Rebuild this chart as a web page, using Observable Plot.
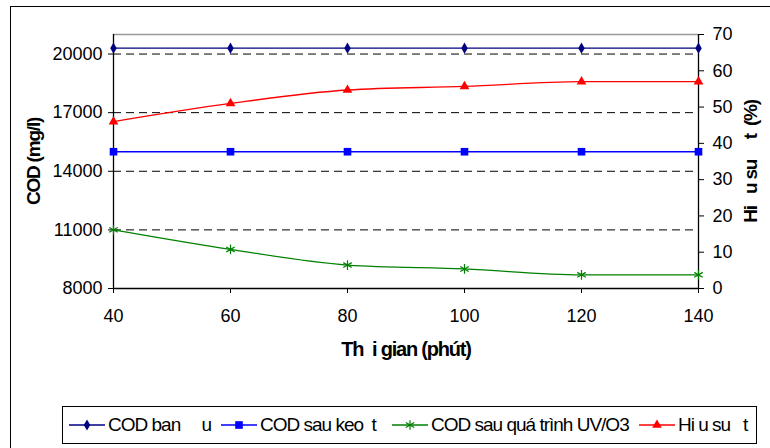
<!DOCTYPE html>
<html>
<head>
<meta charset="utf-8">
<script src="https://cdn.jsdelivr.net/npm/d3@7"></script>
<script src="https://cdn.jsdelivr.net/npm/@observablehq/plot@0.6"></script>
<style>
  html, body { margin: 0; padding: 0; background: #fff; }
  #wrap { position: relative; width: 770px; height: 448px; overflow: hidden; font-family: "Liberation Sans", Arial, sans-serif; }
  #outer { position: absolute; left: 10px; top: 6px; width: 800px; height: 500px; border: 1.5px solid #000; box-sizing: border-box; pointer-events: none; }
  #chart svg { display: block; }
  #legend { position: relative; margin-left: 62px; margin-top: 6px; width: 695px; height: 38px; border: 1.5px solid #000; box-sizing: border-box; background: #fff; }
  .item { position: absolute; top: 0; height: 35px; display: flex; align-items: center; }
  .item svg { display: block; }
  .item span { white-space: pre; font-size: 19px; letter-spacing: -1px; margin-left: 3px; color: #000; }
</style>
</head>
<body>
<div id="wrap">
  <div id="chart"></div>
  <div id="legend"></div>
  <div id="outer"></div>
</div>
<script>
// ---- data ----
const times      = [40, 60, 80, 100, 120, 140];
const codBanDau  = [20300, 20300, 20300, 20300, 20300, 20300];
const codKeoTu   = [15000, 15000, 15000, 15000, 15000, 15000];
const codUVO3    = [11000, 10000, 9200, 9000, 8700, 8700];
const hieuSuat   = [46, 51, 54.7, 55.7, 57, 57];

const xTicks      = [40, 60, 80, 100, 120, 140];
const yLeftTicks  = [8000, 11000, 14000, 17000, 20000];
const yRightTicks = [0, 10, 20, 30, 40, 50, 60, 70];
const xDomain      = [40, 140];
const yLeftDomain  = [8000, 21000];
const yRightDomain = [0, 70];

const seriesNames  = ["COD ban     u", "COD sau keo  t", "COD sau quá trình UV/O3", "Hi u su   t"];
const seriesColors = ["#000080", "#0000FF", "#008000", "#FF0000"];
const seriesSymbols = ["diamond", "square", "asterisk", "triangle"];
const seriesR = [3.4, 4.3, 4.6, 3.6];

const xLabel = "Th  i gian (phút)";
const yLeftLabel = "COD (mg/l)";
const yRightLabel = "Hi   u su     t  (%)";

// right axis values mapped into the left (COD) scale
const k = (yLeftDomain[1] - yLeftDomain[0]) / (yRightDomain[1] - yRightDomain[0]);
const toLeft = v => yLeftDomain[0] + (v - yRightDomain[0]) * k;
const fromLeft = d => yRightDomain[0] + (d - yLeftDomain[0]) / k;

const seriesValues = [codBanDau, codKeoTu, codUVO3, hieuSuat.map(toLeft)];
const rows = seriesValues.map((vals, i) => times.map((t, j) => ({x: t, y: vals[j], s: i})));

const lineMarks = rows.map((r, i) => Plot.line(r, {x: "x", y: "y", stroke: seriesColors[i], strokeWidth: 1.3, curve: "monotone-x"}));
const dotMarks = rows.map((r, i) => {
  const filled = seriesSymbols[i] !== "asterisk";
  return Plot.dot(r, {x: "x", y: "y", symbol: seriesSymbols[i], r: seriesR[i],
    fill: filled ? seriesColors[i] : "none", stroke: filled ? "none" : seriesColors[i], strokeWidth: 1.2});
});

const svg = Plot.plot({
  width: 770, height: 400,
  marginTop: 34, marginBottom: 112, marginLeft: 113, marginRight: 72,
  style: {fontFamily: "'Liberation Sans', Arial, sans-serif", fontSize: "18px", color: "#000", background: "transparent", overflow: "visible"},
  x: {domain: xDomain},
  y: {domain: yLeftDomain},
  marks: [
    Plot.gridY(yLeftTicks.filter(t => t > yLeftDomain[0]), {stroke: "#000", strokeOpacity: 1, strokeDasharray: "8,5", strokeWidth: 1}),
    Plot.ruleY([yLeftDomain[1]], {stroke: "#999", strokeWidth: 1.3}),
    Plot.ruleY([yLeftDomain[0]], {stroke: "#000", strokeWidth: 1.3}),
    Plot.ruleX([xDomain[0]], {stroke: "#000", strokeWidth: 1.3}),
    Plot.ruleX([xDomain[1]], {stroke: "#000", strokeWidth: 1.3}),
    Plot.axisX(xTicks, {tickSize: 5, tickPadding: 16, label: null, tickFormat: d => String(d)}),
    Plot.axisY(yLeftTicks, {anchor: "left", tickSize: 5, tickPadding: 6, label: null, tickFormat: d => String(d)}),
    Plot.axisY(yRightTicks.map(toLeft), {anchor: "right", tickSize: 5, tickPadding: 9, label: null, tickFormat: d => String(Math.round(fromLeft(d)))}),
    ...lineMarks,
    ...dotMarks,
    Plot.text([xLabel], {frameAnchor: "bottom", dy: 67, fontWeight: "bold", fontSize: 20, textAnchor: "middle"}),
    Plot.text([yLeftLabel], {frameAnchor: "left", dx: -80, rotate: -90, fontWeight: "bold", fontSize: 19, textAnchor: "middle"}),
    Plot.text([yRightLabel], {frameAnchor: "right", dx: 52, rotate: -90, fontWeight: "bold", fontSize: 19, textAnchor: "middle"})
  ]
});
d3.select(svg).selectAll("g[aria-label='text'] text").attr("letter-spacing", "-1.2px");
document.getElementById("chart").appendChild(svg);

// legend
const legendLeft = [6, 158, 329, 576];
const legend = d3.select("#legend");
seriesNames.forEach((name, i) => {
  const item = legend.append("div").attr("class", "item").style("left", legendLeft[i] + "px");
  const sw = item.append("svg").attr("width", 36).attr("height", 20);
  sw.append("line").attr("x1", 0).attr("x2", 36).attr("y1", 10).attr("y2", 10)
    .attr("stroke", seriesColors[i]).attr("stroke-width", 1.3);
  const symType = {diamond: d3.symbolDiamond, square: d3.symbolSquare, asterisk: d3.symbolAsterisk, triangle: d3.symbolTriangle}[seriesSymbols[i]];
  const filled = seriesSymbols[i] !== "asterisk";
  sw.append("path").attr("transform", "translate(18,10)")
    .attr("d", d3.symbol(symType, Math.PI * seriesR[i] * seriesR[i])())
    .attr("fill", filled ? seriesColors[i] : "none")
    .attr("stroke", filled ? "none" : seriesColors[i]).attr("stroke-width", 1.2);
  item.append("span").text(name);
});
</script>
</body>
</html>
